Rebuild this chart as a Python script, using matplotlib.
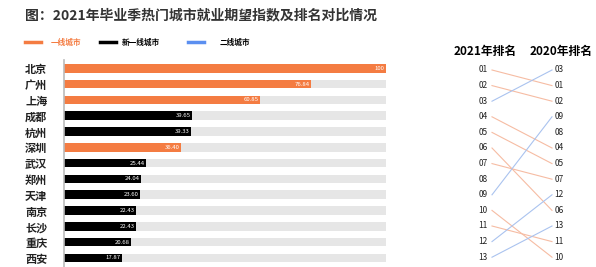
import matplotlib
matplotlib.use("Agg")
import matplotlib.pyplot as plt

plt.rcParams['font.family'] = ['Noto Sans CJK SC', 'DejaVu Sans']

# bar data
cities = ['北京', '广州', '上海', '成都', '杭州', '深圳', '武汉',
          '郑州', '天津', '南京', '长沙', '重庆', '西安']
values = [100, 76.84, 60.85, 39.65, 39.33, 36.40, 25.44,
          24.04, 23.60, 22.43, 22.43, 20.68, 17.87]
tiers = ['一线', '一线', '一线', '新一线', '新一线', '一线', '新一线',
         '新一线', '新一线', '新一线', '新一线', '新一线', '新一线']

# ranking comparison: 2021 rank -> 2020 rank
rank_2021 = list(range(1, 14))
rank_2020_order = [3, 1, 2, 9, 8, 4, 5, 7, 12, 6, 13, 11, 10]   # right column, top to bottom
link_color = ['o', 'o', 'b', 'o', 'o', 'o', 'o', None, 'b', 'o', 'o', 'b', 'b']

ORANGE = '#f47c42'
BLUE = '#5b8ff0'
GREY = '#e6e6e6'
tier_color = {'一线': ORANGE, '新一线': '#000000', '二线': BLUE}
line_col = {'o': '#f6bca3', 'b': '#aac3ef'}

W, H = 596, 267
fig = plt.figure(figsize=(W / 100, H / 100), dpi=100)

# title + legend
fig.text(25 / W, 1 - 15 / H, '图：2021年毕业季热门城市就业期望指数及排名对比情况',
         fontsize=10, fontweight='bold', color='#333333', va='center')
leg = [('一线城市', ORANGE, 25, 51, ORANGE), ('新一线城市', '#000000', 100, 122, '#000000'),
       ('二线城市', BLUE, 188, 220, '#000000')]
for name, c, x0, xt, tc in leg:
    fig.add_artist(plt.Line2D([x0 / W, (x0 + 16) / W], [1 - 42 / H] * 2, color=c, lw=2.5))
    fig.text(xt / W, 1 - 42 / H, name, fontsize=5.5, fontweight='bold', color=tc, va='center')

# bar chart
top_px, row0, step = 60, 68.3, 15.8
y_top = (top_px - row0) / step
y_bot = (H - row0) / step
ax = fig.add_axes([64 / W, 0, (386 - 64) / W, 1 - top_px / H])
ypos = list(range(len(cities)))
ax.barh(ypos, [100] * len(cities), height=0.55, color=GREY, zorder=1)
ax.barh(ypos, values, height=0.55, color=[tier_color[t] for t in tiers], zorder=2)
for y, v in zip(ypos, values):
    s = '100' if v == 100 else f'{v:.2f}'
    ax.text(v - 0.4, y, s, color='white', fontsize=4.3, ha='right', va='center', zorder=3)
ax.set_xlim(0, 100)
ax.set_ylim(y_bot, y_top)
ax.set_yticks(ypos)
ax.set_yticklabels(cities, fontsize=8, fontweight='bold', color='#222222')
ax.tick_params(axis='y', length=0, pad=12)
ax.set_xticks([])
for sp in ['top', 'right', 'bottom']:
    ax.spines[sp].set_visible(False)
ax.spines['left'].set_color('#bbbbbb')
ax.spines['left'].set_linewidth(1.2)

# ranking panel
ax2 = fig.add_axes([0.7, 0, 0.3, 1])
ax2.set_xlim(0.7 * W, W)
ax2.set_ylim(H, 0)
ax2.axis('off')
r0, rs = 70, 15.6
xl, xr = 483, 559
ax2.text(485, 51, '2021年排名', fontsize=8.5, fontweight='bold', ha='center', va='center')
ax2.text(561, 51, '2020年排名', fontsize=8.5, fontweight='bold', ha='center', va='center')
for i, r in enumerate(rank_2021):
    ax2.text(xl, r0 + i * rs, f'{r:02d}', fontsize=6, ha='center', va='center', color='#222222')
for i, r in enumerate(rank_2020_order):
    ax2.text(xr, r0 + i * rs, f'{r:02d}', fontsize=6, ha='center', va='center', color='#222222')
for i, r in enumerate(rank_2021):
    c = link_color[i]
    if c is None:
        continue
    j = rank_2020_order.index(r)
    ax2.plot([492, 552], [r0 + i * rs, r0 + j * rs], color=line_col[c], lw=0.8)

fig.savefig('out.png', dpi=100)
